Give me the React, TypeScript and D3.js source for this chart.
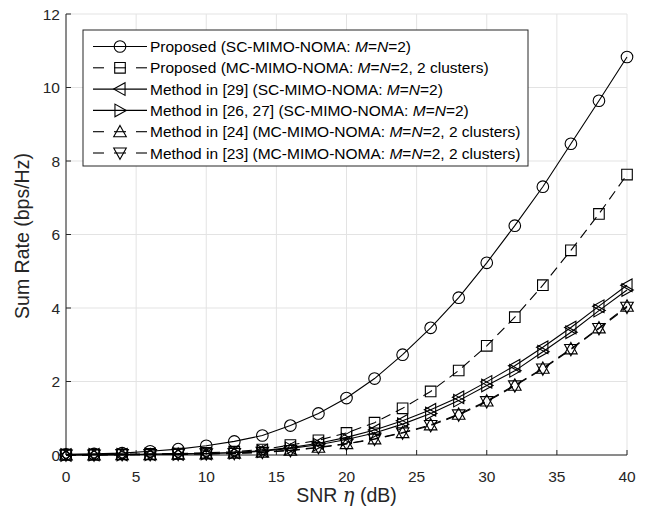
import React from 'react';
import * as d3 from 'd3';

const snr = [0, 2, 4, 6, 8, 10, 12, 14, 16, 18, 20, 22, 24, 26, 28, 30, 32, 34, 36, 38, 40];
const proposedSC = [0.02, 0.03, 0.05, 0.1, 0.16, 0.25, 0.37, 0.53, 0.8, 1.13, 1.55, 2.08, 2.73, 3.46, 4.28, 5.23, 6.24, 7.3, 8.47, 9.64, 10.83];
const proposedMC = [0.01, 0.01, 0.02, 0.03, 0.04, 0.06, 0.09, 0.15, 0.27, 0.4, 0.6, 0.88, 1.27, 1.73, 2.3, 2.97, 3.75, 4.62, 5.57, 6.56, 7.63];
const method29 = [0, 0.01, 0.01, 0.02, 0.03, 0.04, 0.07, 0.12, 0.2, 0.32, 0.48, 0.68, 0.93, 1.23, 1.57, 1.99, 2.43, 2.93, 3.47, 4.05, 4.62];
const method2627 = [0, 0.01, 0.01, 0.02, 0.03, 0.04, 0.06, 0.1, 0.18, 0.28, 0.42, 0.6, 0.84, 1.13, 1.48, 1.89, 2.29, 2.81, 3.34, 3.93, 4.49];
const method24 = [0, 0, 0.01, 0.01, 0.02, 0.03, 0.05, 0.08, 0.13, 0.21, 0.31, 0.44, 0.61, 0.82, 1.11, 1.47, 1.9, 2.36, 2.89, 3.46, 4.05];
const method23 = [0, 0, 0.01, 0.01, 0.02, 0.03, 0.04, 0.07, 0.12, 0.2, 0.3, 0.43, 0.6, 0.8, 1.09, 1.45, 1.88, 2.34, 2.87, 3.44, 4.02];

const xTicks = [0, 5, 10, 15, 20, 25, 30, 35, 40];
const yTicks = [0, 2, 4, 6, 8, 10, 12];

type Marker = 'circle' | 'square' | 'left' | 'right' | 'up' | 'down';

const seriesList: { values: number[]; marker: Marker; dashed: boolean; pre: string; post: string }[] = [
  { values: proposedSC, marker: 'circle', dashed: false, pre: 'Proposed (SC-MIMO-NOMA: ', post: ')' },
  { values: proposedMC, marker: 'square', dashed: true, pre: 'Proposed (MC-MIMO-NOMA: ', post: ', 2 clusters)' },
  { values: method29, marker: 'left', dashed: false, pre: 'Method in [29] (SC-MIMO-NOMA: ', post: ')' },
  { values: method2627, marker: 'right', dashed: false, pre: 'Method in [26, 27] (SC-MIMO-NOMA: ', post: ')' },
  { values: method24, marker: 'up', dashed: true, pre: 'Method in [24] (MC-MIMO-NOMA: ', post: ', 2 clusters)' },
  { values: method23, marker: 'down', dashed: true, pre: 'Method in [23] (MC-MIMO-NOMA: ', post: ', 2 clusters)' },
];

const W = 645;
const H = 515;
const x = d3.scaleLinear().domain([0, 40]).range([66, 627]);
const y = d3.scaleLinear().domain([0, 12]).range([455, 14]);

const FONT = '"Liberation Sans", Arial, Helvetica, sans-serif';
const AX = '#262626';
const DASH = '10,6';

function markerPath(m: Marker, cx: number, cy: number): string {
  const s = 6.3;
  switch (m) {
    case 'circle':
      return `M${cx + 5.8},${cy} A5.8,5.8 0 1,1 ${cx - 5.8},${cy} A5.8,5.8 0 1,1 ${cx + 5.8},${cy} Z`;
    case 'square':
      return `M${cx - 5.3},${cy - 5.3} H${cx + 5.3} V${cy + 5.3} H${cx - 5.3} Z`;
    case 'left':
      return `M${cx - s},${cy} L${cx + s * 0.8},${cy - s} L${cx + s * 0.8},${cy + s} Z`;
    case 'right':
      return `M${cx + s},${cy} L${cx - s * 0.8},${cy - s} L${cx - s * 0.8},${cy + s} Z`;
    case 'up':
      return `M${cx},${cy - s} L${cx + s},${cy + s * 0.8} L${cx - s},${cy + s * 0.8} Z`;
    case 'down':
      return `M${cx},${cy + s} L${cx + s},${cy - s * 0.8} L${cx - s},${cy - s * 0.8} Z`;
  }
}

export default function App() {
  const line = d3
    .line<number>()
    .x((_, i) => x(snr[i]))
    .y((v) => y(v));

  const legX = 83;
  const legY = 30;
  const legW = 445;
  const legH = 136;
  const rowY0 = 46.5;
  const rowStep = 21.3;

  return (
    <div style={{ position: 'absolute', left: 0, top: 0 }}>
      <svg width={W} height={H} viewBox={`0 0 ${W} ${H}`} style={{ display: 'block', background: '#fff' }}>
        <rect x={0} y={0} width={W} height={H} fill="#fff" />
        {/* grid */}
        <g stroke="#e3e3e3" strokeWidth={1}>
          {xTicks.map((t) => (
            <line key={'gx' + t} x1={x(t)} x2={x(t)} y1={y(0)} y2={y(12)} />
          ))}
          {yTicks.map((t) => (
            <line key={'gy' + t} x1={x(0)} x2={x(40)} y1={y(t)} y2={y(t)} />
          ))}
        </g>
        {/* axes */}
        <g stroke={AX} strokeWidth={1} fill="none">
          <line x1={x(0)} x2={x(0)} y1={y(0)} y2={y(12)} />
          <line x1={x(0)} x2={x(40)} y1={y(0)} y2={y(0)} />
          {xTicks.map((t) => (
            <line key={'tx' + t} x1={x(t)} x2={x(t)} y1={y(0)} y2={y(0) - 5} />
          ))}
          {yTicks.map((t) => (
            <line key={'ty' + t} x1={x(0)} x2={x(0) + 5} y1={y(t)} y2={y(t)} />
          ))}
        </g>
        <g fontFamily={FONT} fontSize={15.5} fill={AX}>
          {xTicks.map((t) => (
            <text key={'lx' + t} x={x(t)} y={482} textAnchor="middle">
              {t}
            </text>
          ))}
          {yTicks.map((t) => (
            <text key={'ly' + t} x={x(0) - 6} y={y(t) + 5.5} textAnchor="end">
              {t}
            </text>
          ))}
        </g>
        {/* axis labels */}
        <text x={(x(0) + x(40)) / 2} y={502} textAnchor="middle" fontFamily={FONT} fontSize={19.5} fill={AX}>
          SNR <tspan fontFamily={'"DejaVu Serif", "Liberation Serif", serif'} fontStyle="italic">η</tspan> (dB)
        </text>
        <text
          transform={`translate(29,${236}) rotate(-90)`}
          textAnchor="middle"
          fontFamily={FONT}
          fontSize={19.5}
          fill={AX}
        >
          Sum Rate (bps/Hz)
        </text>
        {/* series */}
        {seriesList.map((s, si) => (
          <g key={'s' + si}>
            <path
              d={line(s.values) || ''}
              fill="none"
              stroke="#000"
              strokeWidth={1.1}
              strokeDasharray={s.dashed ? DASH : undefined}
            />
            {s.values.map((v, i) => (
              <path
                key={i}
                d={markerPath(s.marker, x(snr[i]), y(v))}
                fill="none"
                stroke="#000"
                strokeWidth={1.1}
              />
            ))}
          </g>
        ))}
        {/* legend */}
        <rect x={legX} y={legY} width={legW} height={legH} fill="#fff" stroke={AX} strokeWidth={1} />
        {seriesList.map((s, i) => {
          const cy = rowY0 + i * rowStep;
          return (
            <g key={'leg' + i}>
              {s.dashed ? (
                <g stroke="#000" strokeWidth={1.1}>
                  <line x1={93} x2={104} y1={cy} y2={cy} />
                  <line x1={114} x2={126} y1={cy} y2={cy} />
                  <line x1={136} x2={147} y1={cy} y2={cy} />
                </g>
              ) : (
                <line x1={93} x2={147} y1={cy} y2={cy} stroke="#000" strokeWidth={1.1} />
              )}
              <path d={markerPath(s.marker, 120, cy)} fill="none" stroke="#000" strokeWidth={1.1} />
              <text x={150} y={cy + 5.5} fontFamily={FONT} fontSize={15.5} fill="#000">
                {s.pre}
                <tspan fontStyle="italic">M</tspan>=<tspan fontStyle="italic">N</tspan>=2{s.post}
              </text>
            </g>
          );
        })}
      </svg>
    </div>
  );
}
